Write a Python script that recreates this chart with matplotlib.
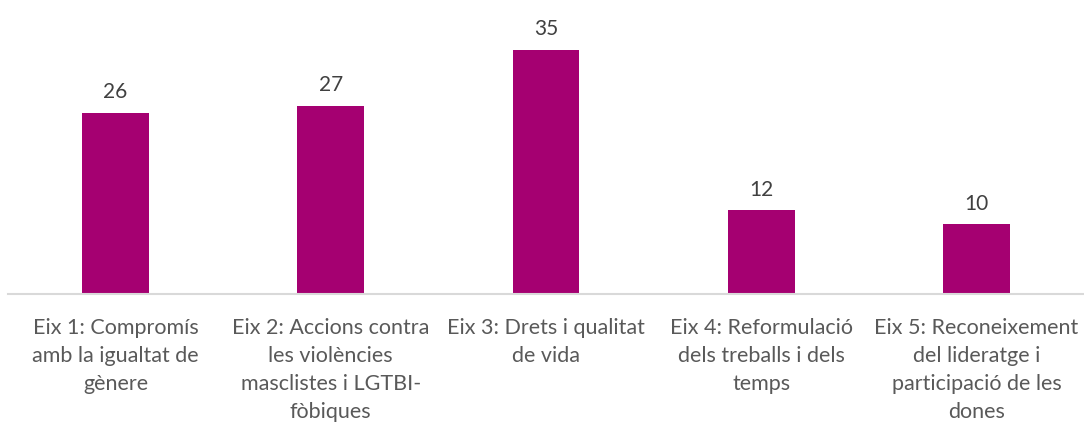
import matplotlib
matplotlib.use("Agg")
import matplotlib.pyplot as plt

categories = [
    "Eix 1: Compromís\namb la igualtat de\ngènere",
    "Eix 2: Accions contra\nles violències\nmasclistes i LGTBI-\nfòbiques",
    "Eix 3: Drets i qualitat\nde vida",
    "Eix 4: Reformulació\ndels treballs i dels\ntemps",
    "Eix 5: Reconeixement\ndel lideratge i\nparticipació de les\ndones",
]
values = [26, 27, 35, 12, 10]

bar_color = "#A50071"
plt.rcParams["font.family"] = ["Lato", "DejaVu Sans"]

fig = plt.figure(figsize=(10.84, 4.23), dpi=100)
ax = fig.add_axes([8 / 1084, 129 / 423, 1076 / 1084, 279 / 423])

x = list(range(len(values)))
bars = ax.bar(x, values, width=0.31, color=bar_color)
ax.bar_label(bars, labels=[str(v) for v in values], padding=7.5,
             fontsize=15, color="#404040")

ax.set_xlim(-0.5, len(values) - 0.5)
ax.set_ylim(0, 40)
ax.set_xticks(x)
ax.set_xticklabels(categories, fontsize=15.5, color="#595959", linespacing=1.5,
                   va="top")
ax.tick_params(axis="x", length=0, pad=17.5)
ax.set_yticks([])
for side in ["top", "right", "left"]:
    ax.spines[side].set_visible(False)
ax.spines["bottom"].set_color("#D9D9D9")
ax.spines["bottom"].set_linewidth(1.5)

fig.savefig("out.png", dpi=100)
